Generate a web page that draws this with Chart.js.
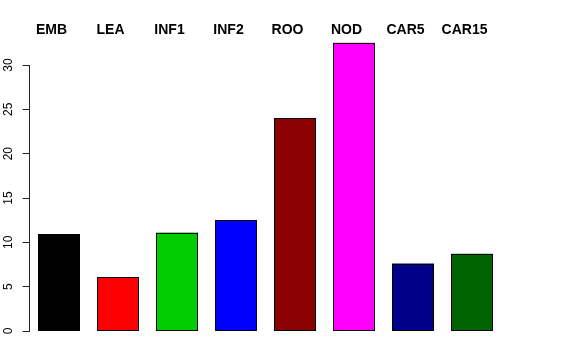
<!DOCTYPE html>
<html>
<head>
<meta charset="utf-8">
<script src="https://cdn.jsdelivr.net/npm/chart.js@4.4.0/dist/chart.umd.min.js"></script>
<style>
  html, body { margin: 0; padding: 0; background: #fff; }
  canvas { display: block; }
</style>
</head>
<body>
<canvas id="barChart" width="576" height="360"></canvas>
<script>
// data
const categories = ['EMB', 'LEA', 'INF1', 'INF2', 'ROO', 'NOD', 'CAR5', 'CAR15'];
const values = [10.9, 6.1, 11.1, 12.5, 24.0, 32.5, 7.6, 8.7];
const barColors = ['#000000', '#FF0000', '#00CD00', '#0000FF', '#8B0000', '#FF00FF', '#00008B', '#006400'];
const yTicks = [0, 5, 10, 15, 20, 25, 30];

// crisp 1px black outline round each bar, like R's barplot
const barOutline = {
    id: 'barOutline',
    afterDatasetsDraw(chart) {
        const ctx = chart.ctx;
        ctx.save();
        ctx.strokeStyle = '#000';
        ctx.lineWidth = 1;
        chart.getDatasetMeta(0).data.forEach(bar => {
            const l = Math.round(bar.x - bar.width / 2) + 0.5;
            const r = Math.round(bar.x + bar.width / 2) - 0.5;
            const t = Math.round(bar.y) + 0.5;
            const b = Math.round(bar.base) - 0.5;
            ctx.strokeRect(l, t, r - l, b - t);
        });
        ctx.restore();
    }
};

// R-style axis: line only from 0 to 30, rotated tick labels, bold labels on top
const rAxisPlugin = {
    id: 'rAxis',
    afterDraw(chart) {
        const ctx = chart.ctx;
        const y = chart.scales.y;
        const x = chart.scales.x;
        const left = chart.chartArea.left;
        ctx.save();
        ctx.strokeStyle = '#222';
        ctx.lineWidth = 1;
        ctx.beginPath();
        ctx.moveTo(left, y.getPixelForValue(yTicks[0]));
        ctx.lineTo(left, y.getPixelForValue(yTicks[yTicks.length - 1]));
        ctx.stroke();

        ctx.fillStyle = '#000';
        ctx.font = '12px "Liberation Sans", Arial, sans-serif';
        ctx.textAlign = 'center';
        ctx.textBaseline = 'middle';
        yTicks.forEach(t => {
            ctx.save();
            ctx.translate(9, y.getPixelForValue(t));
            ctx.rotate(-Math.PI / 2);
            ctx.fillText(String(t), 0, 0);
            ctx.restore();
        });

        ctx.font = 'bold 14px "Liberation Sans", Arial, sans-serif';
        ctx.textBaseline = 'alphabetic';
        categories.forEach((c, i) => {
            ctx.fillText(c, x.getPixelForValue(i) - 7.5, 34);
        });
        ctx.restore();
    }
};

new Chart(document.getElementById('barChart'), {
    type: 'bar',
    data: {
        labels: categories,
        datasets: [{
            data: values,
            backgroundColor: barColors,
            borderWidth: 0,
            inflateAmount: 0,
            barPercentage: 0.712,
            categoryPercentage: 1.0
        }]
    },
    options: {
        responsive: false,
        animation: false,
        layout: {
            padding: { left: 0, right: 74.5, top: 38.4, bottom: 29 }
        },
        plugins: {
            legend: { display: false },
            tooltip: { enabled: false }
        },
        scales: {
            x: {
                display: false
            },
            y: {
                min: 0,
                max: 33,
                afterBuildTicks: (axis) => {
                    axis.ticks = yTicks.map(v => ({ value: v }));
                },
                afterFit: (axis) => {
                    axis.width = 29.5;
                },
                border: { display: false },
                grid: {
                    drawOnChartArea: false,
                    drawTicks: true,
                    tickLength: 7,
                    color: '#222'
                },
                ticks: { display: false }
            }
        }
    },
    plugins: [barOutline, rAxisPlugin]
});
</script>
</body>
</html>
